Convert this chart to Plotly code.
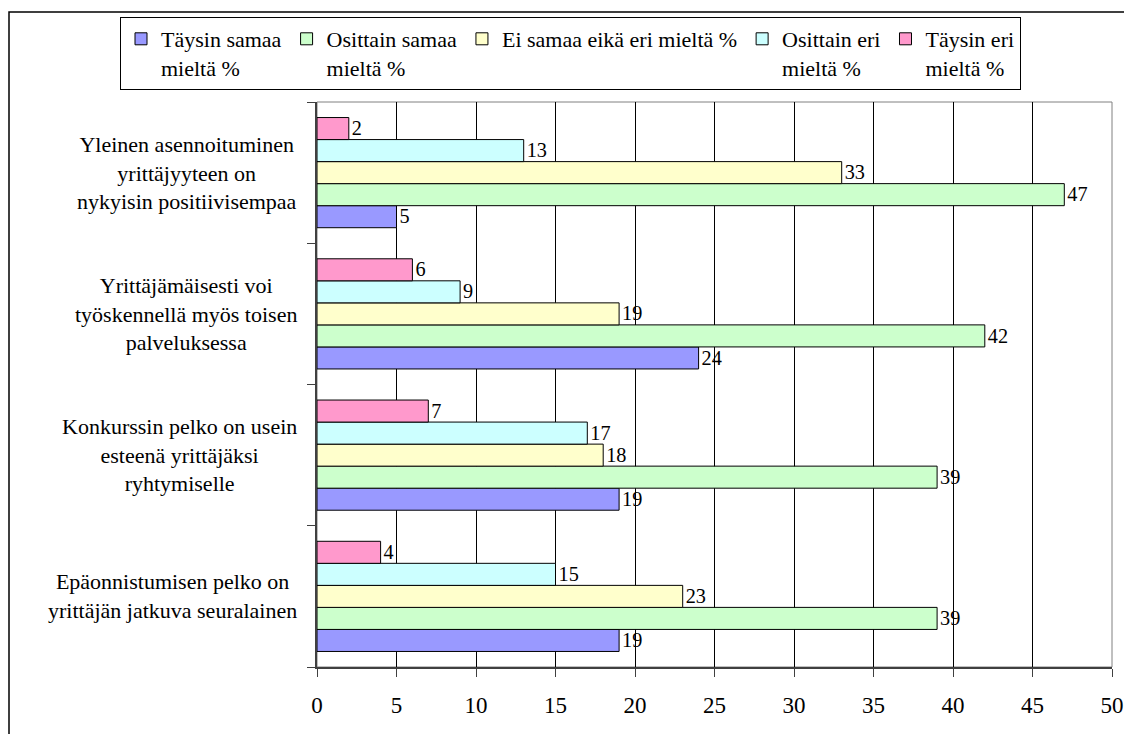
import plotly.graph_objects as go

categories = [
    "Epäonnistumisen pelko on<br>yrittäjän jatkuva seuralainen",
    "Konkurssin pelko on usein<br>esteenä yrittäjäksi<br>ryhtymiselle",
    "Yrittäjämäisesti voi<br>työskennellä myös toisen<br>palveluksessa",
    "Yleinen asennoituminen<br>yrittäjyyteen on<br>nykyisin positiivisempaa",
]
series_names = [
    "Täysin samaa<br>mieltä %",
    "Osittain samaa<br>mieltä %",
    "Ei samaa eikä eri mieltä %",
    "Osittain eri<br>mieltä %",
    "Täysin eri<br>mieltä %",
]
taysin_samaa = [19, 19, 24, 5]
osittain_samaa = [39, 39, 42, 47]
ei_samaa_eika_eri = [23, 18, 19, 33]
osittain_eri = [15, 17, 9, 13]
taysin_eri = [4, 7, 6, 2]
series_values = [taysin_samaa, osittain_samaa, ei_samaa_eika_eri, osittain_eri, taysin_eri]
colors = ["#9999FF", "#CCFFCC", "#FFFFCC", "#CCFFFF", "#FF99CC"]
x_ticks = [0, 5, 10, 15, 20, 25, 30, 35, 40, 45, 50]

FONT = "Liberation Serif, Times New Roman, serif"
FS = 23
CFS = 22
LFS = 22

fig = go.Figure()
for name, vals, col in zip(series_names, series_values, colors):
    fig.add_trace(go.Bar(
        y=categories, x=vals, name=name, orientation="h",
        marker=dict(color=col, line=dict(color="black", width=1)),
        text=[str(v) for v in vals], textposition="outside",
        textfont=dict(family=FONT, size=FS, color="black"),
        cliponaxis=False,
    ))

for c in categories:
    fig.add_annotation(
        x=0, xref="paper", xanchor="right", xshift=-18,
        y=c, yref="y", yanchor="middle",
        text=c, showarrow=False, align="center",
        font=dict(family=FONT, size=CFS, color="black"),
    )

# page has an 8px body margin; work in figure coordinates
OFF = 8
W, H = 1132, 734
L, R, T, B = 317 - OFF, W - 1112 + OFF, 102 - OFF, H - 667 + OFF
pw, ph = W - L - R, H - T - B

def px(xs):
    return (xs - OFF - L) / pw

def py(ys):
    return (H - B - (ys - OFF)) / ph

fig.add_shape(type="rect", xref="paper", yref="paper",
              x0=px(9), x1=px(1150), y0=py(760), y1=py(12),
              line=dict(color="black", width=1.5), layer="below")
fig.add_shape(type="rect", xref="paper", yref="paper",
              x0=0, x1=1, y0=0, y1=1,
              line=dict(color="#808080", width=1), layer="below")

fig.update_layout(
    width=W, height=H,
    margin=dict(l=L, r=R, t=T, b=B, autoexpand=False),
    plot_bgcolor="white", paper_bgcolor="white",
    barmode="group", bargap=0.22, bargroupgap=0,
    font=dict(family=FONT, size=FS, color="black"),
    showlegend=True,
    legend=dict(
        orientation="h", x=px(120), y=py(17), xanchor="left", yanchor="top",
        bgcolor="white", bordercolor="black", borderwidth=1,
        font=dict(family=FONT, size=LFS, color="black"),
        traceorder="normal", itemwidth=30,
        valign="top",
    ),
    xaxis=dict(
        range=[0, 50], tickvals=x_ticks, ticktext=[str(t) for t in x_ticks],
        showgrid=True, gridcolor="black", gridwidth=1,
        showline=True, linecolor="#404040", linewidth=1.5,
        ticks="outside", ticklen=8, tickcolor="#404040",
        ticklabelstandoff=9, zeroline=False,
        tickfont=dict(family=FONT, size=FS, color="black"),
    ),
    yaxis=dict(
        showticklabels=False, showgrid=False,
        showline=True, linecolor="#404040", linewidth=1.5,
        ticks="outside", ticklen=8, tickcolor="#404040",
        tickson="boundaries",
    ),
)

fig.write_html("out.html")
